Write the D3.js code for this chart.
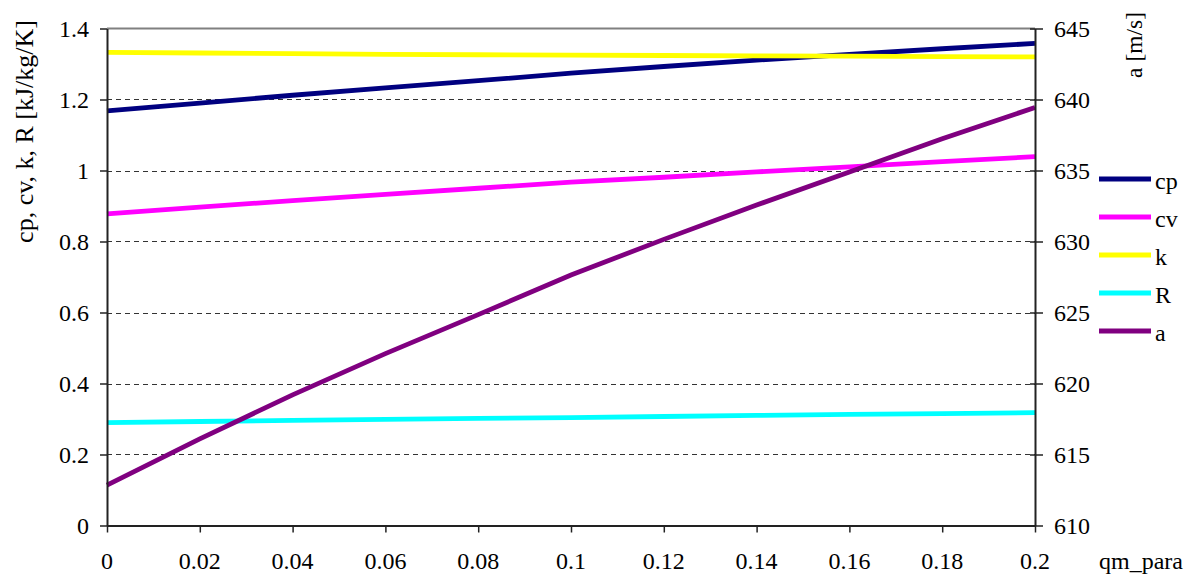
<!DOCTYPE html>
<html>
<head>
<meta charset="utf-8">
<script src="https://cdn.jsdelivr.net/npm/d3@7"></script>
<style>
  html, body { margin: 0; padding: 0; background: #fff; }
  svg { display: block; }
  .f1 { font-family: 'Liberation Serif'; }
</style>
</head>
<body>
<svg id="chart" width="1187" height="574"></svg>
<script>
// ---- data ----
const qm = [0, 0.02, 0.04, 0.06, 0.08, 0.10, 0.12, 0.14, 0.16, 0.18, 0.20];
const cp = [1.168, 1.190, 1.212, 1.233, 1.253, 1.274, 1.293, 1.311, 1.327, 1.343, 1.358];
const cv = [0.878, 0.897, 0.915, 0.933, 0.950, 0.967, 0.981, 0.996, 1.010, 1.025, 1.039];
const k  = [1.333, 1.331, 1.329, 1.327, 1.326, 1.325, 1.324, 1.323, 1.322, 1.321, 1.320];
const R  = [0.290, 0.293, 0.296, 0.299, 0.302, 0.304, 0.307, 0.310, 0.313, 0.315, 0.318];
const a  = [612.85, 616.10, 619.20, 622.10, 624.85, 627.64, 630.15, 632.57, 634.90, 637.24, 639.44];

const xTicks = [0, 0.02, 0.04, 0.06, 0.08, 0.1, 0.12, 0.14, 0.16, 0.18, 0.2];
const yLeftTicks = [0, 0.2, 0.4, 0.6, 0.8, 1, 1.2, 1.4];
const yRightTicks = [610, 615, 620, 625, 630, 635, 640, 645];

const seriesNames = ['cp', 'cv', 'k', 'R', 'a'];
const seriesColors = ['#000080', '#FF00FF', '#FFFF00', '#00FFFF', '#800080'];

// ---- layout ----
const L = 107, Rr = 1035, T = 28.5, B = 525.5;
const svg = d3.select('#chart');

const x = d3.scaleLinear().domain([0, 0.2]).range([L, Rr]);
const yL = d3.scaleLinear().domain([0, 1.4]).range([B, T]);
const yR = d3.scaleLinear().domain([610, 645]).range([B, T]);

const FS = 24;

// gridlines
svg.append('g').selectAll('line')
  .data(yLeftTicks.filter(v => v > 0 && v < 1.4))
  .join('line')
  .attr('x1', L).attr('x2', Rr)
  .attr('y1', d => Math.round(yL(d)) + 0.5).attr('y2', d => Math.round(yL(d)) + 0.5)
  .attr('stroke', '#333').attr('stroke-width', 1)
  .attr('stroke-dasharray', '5,4');

// top border
svg.append('line').attr('x1', L).attr('x2', Rr).attr('y1', T).attr('y2', T)
  .attr('stroke', '#808080').attr('stroke-width', 2);

// series lines
const line = (ys, yScale) => d3.line().x((d, i) => x(qm[i])).y(d => yScale(d))(ys);
[cp, cv, k, R].forEach((ys, i) => {
  svg.append('path').attr('d', line(ys, yL)).attr('fill', 'none')
    .attr('stroke', seriesColors[i]).attr('stroke-width', 4.8);
});
svg.append('path').attr('d', line(a, yR)).attr('fill', 'none')
  .attr('stroke', seriesColors[4]).attr('stroke-width', 4.8);

// axis lines and ticks (labels drawn separately as plain text)
const axStyle = g => {
  g.selectAll('path.domain').attr('stroke', '#222').attr('stroke-width', 2);
  g.selectAll('.tick line').attr('stroke', '#222').attr('stroke-width', 1.5);
  g.selectAll('.tick text').remove();
};
const gx = svg.append('g').attr('transform', `translate(0,${B})`)
  .call(d3.axisBottom(x).tickValues(xTicks).tickSize(7).tickSizeOuter(0));
axStyle(gx);
const gl = svg.append('g').attr('transform', `translate(${L},0)`)
  .call(d3.axisLeft(yL).tickValues(yLeftTicks).tickSize(7).tickSizeOuter(0));
axStyle(gl);
const gr = svg.append('g').attr('transform', `translate(${Rr},0)`)
  .call(d3.axisRight(yR).tickValues(yRightTicks).tickSize(8).tickSizeOuter(0));
axStyle(gr);
gr.selectAll('.tick line').attr('x1', -5);

const addText = (str, xx, yy, anchor, rot, fs) => {
  const t = svg.append('text').attr('class', 'f1').attr('font-size', fs || FS)
    .attr('text-anchor', anchor || 'start').text(str);
  if (rot) t.attr('transform', `translate(${xx},${yy}) rotate(-90)`);
  else t.attr('x', xx).attr('y', yy);
  return t;
};

// tick labels
xTicks.forEach(v => addText(String(+v.toFixed(2)), x(v), 568.5, 'middle'));
yLeftTicks.forEach(v => addText(String(+v.toFixed(1)), 89, yL(v) + 8, 'end'));
yRightTicks.forEach(v => addText(String(v), 1054, yR(v) + 8, 'start'));

// axis titles
addText('cp, cv, k, R [kJ/kg/K]', 33, 20, 'end', true, 26);
addText('a [m/s]', 1142, 12, 'end', true, 23.5);
addText('qm_para', 1099, 568.5, 'start');

// legend
seriesNames.forEach((n, i) => {
  const yy = 179 + i * 38;
  svg.append('line').attr('x1', 1099).attr('x2', 1151).attr('y1', yy).attr('y2', yy)
    .attr('stroke', seriesColors[i]).attr('stroke-width', 4.8);
  addText(n, 1155, yy + 9.5, 'start');
});
</script>
</body>
</html>
